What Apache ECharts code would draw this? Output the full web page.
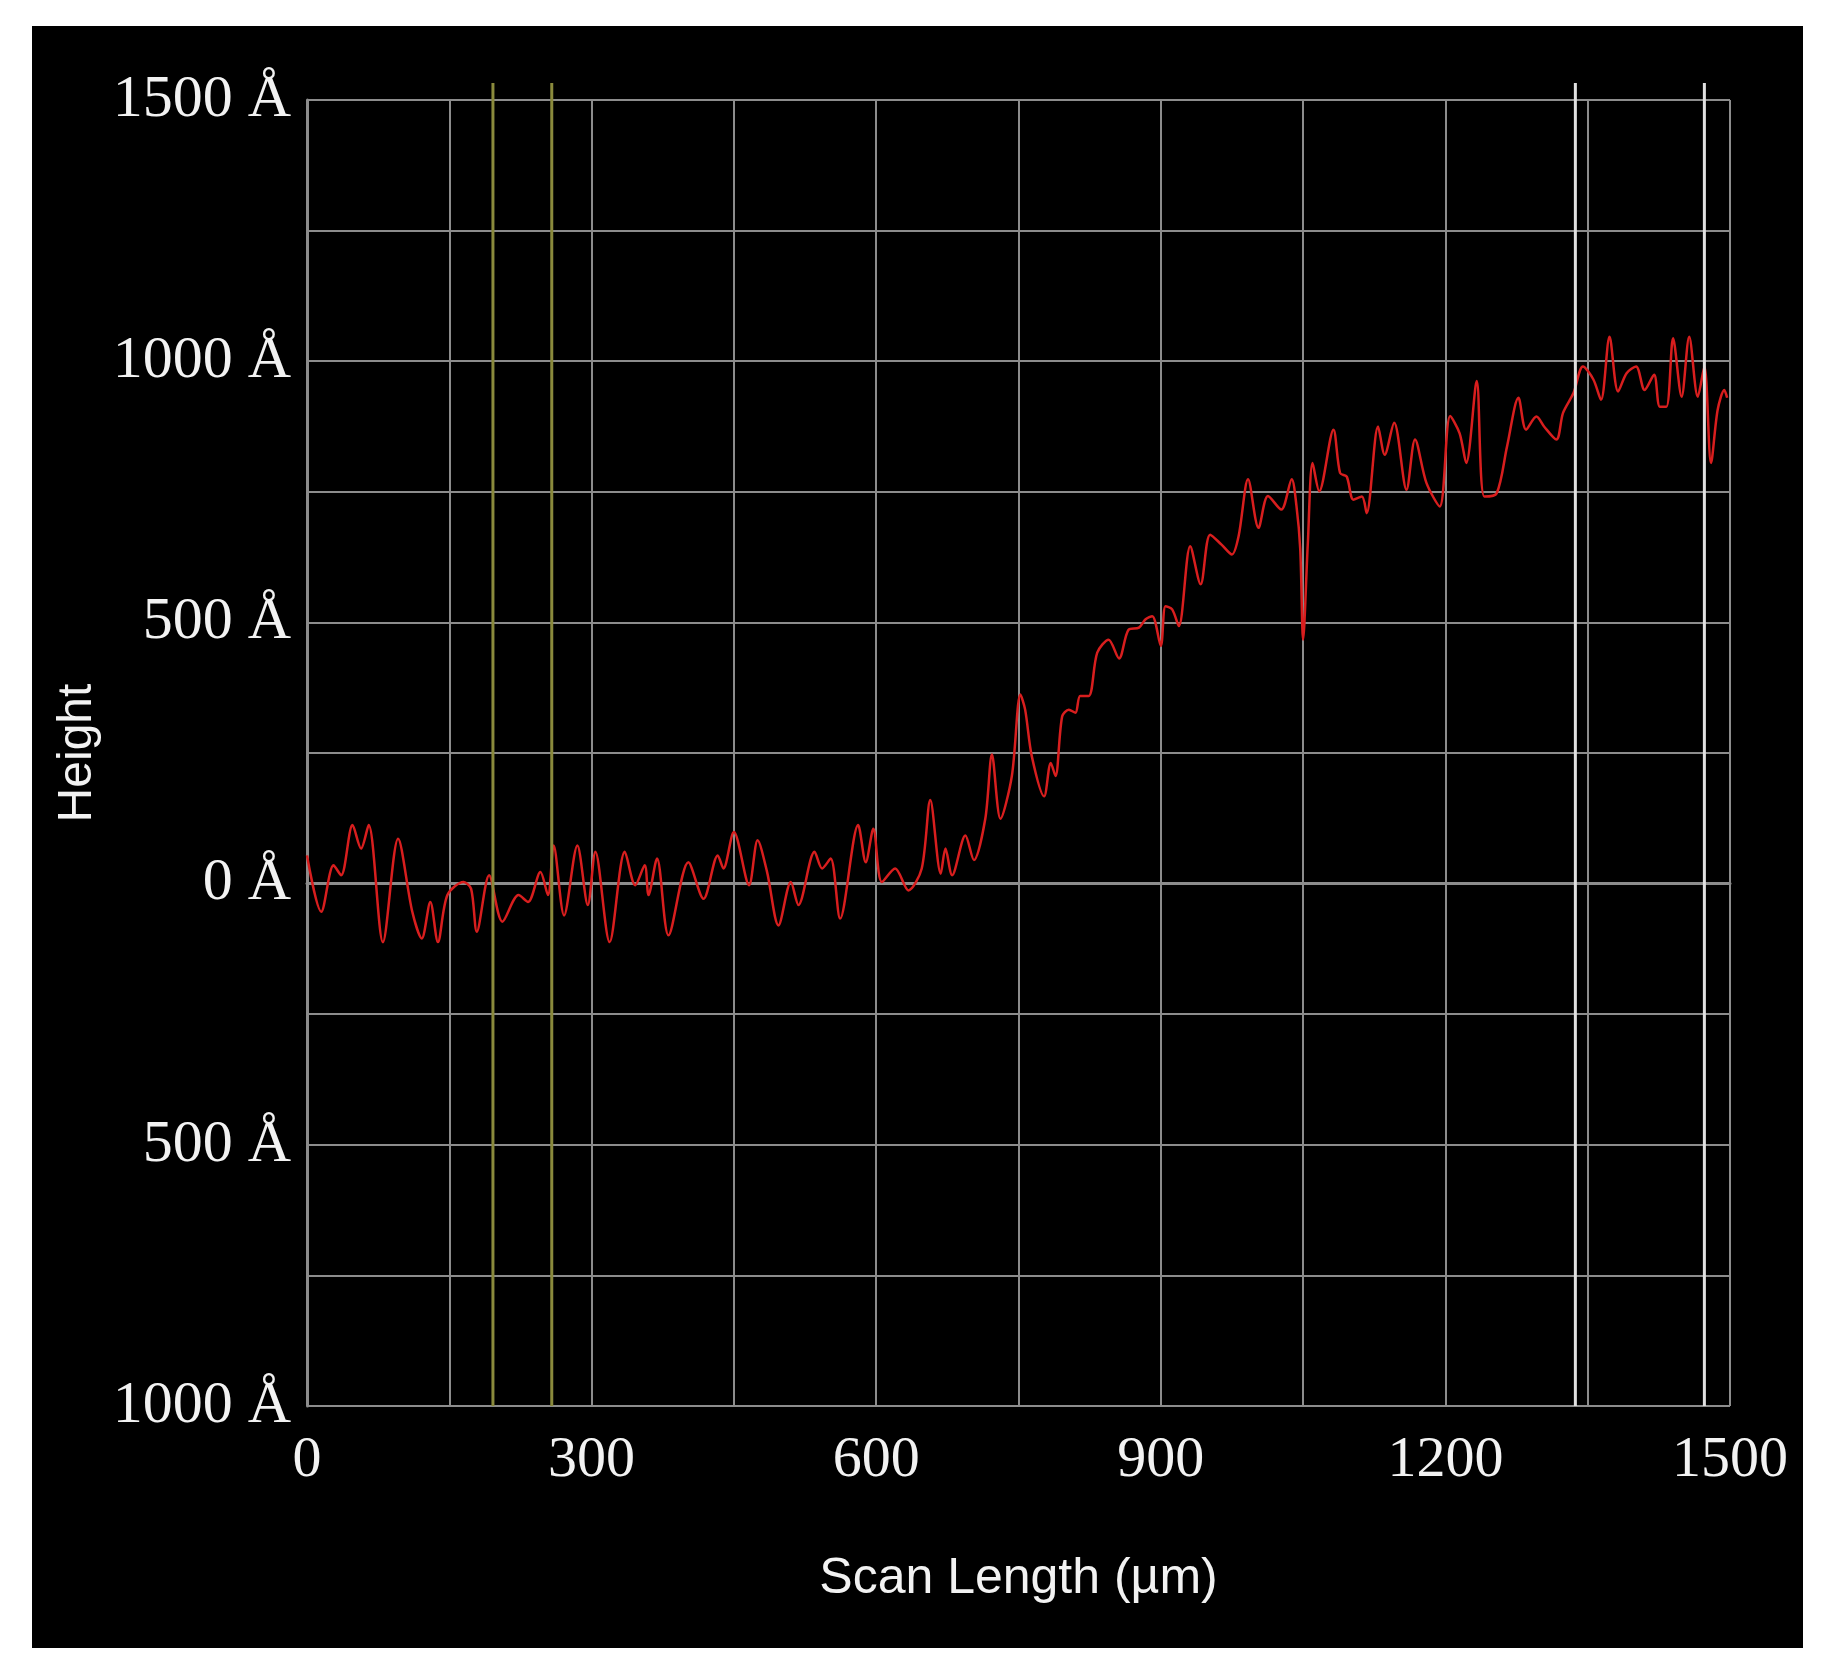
<!DOCTYPE html>
<html><head><meta charset="utf-8">
<script src="https://cdn.jsdelivr.net/npm/echarts@6/dist/echarts.min.js"></script>
<style>
html,body{margin:0;padding:0;background:#fff;width:1831px;height:1669px;overflow:hidden}
#bg{position:absolute;left:32px;top:26px;width:1771px;height:1622px;background:#000}
#c{position:absolute;left:0;top:0;width:1831px;height:1669px}
</style></head><body>
<div id="bg"></div><div id="c"></div>
<script>
const scanX = [0,15,28,36,48,57,65,80,96,111,121,130,138,148,165,173,179,192,206,223,233,246,254,260,271,285,296,304,319,335,346,356,360,369,381,402,418,433,439,450,466,475,485,497,510,518,535,543,552,562,581,589,597,606,620,634,648,657,668,673,680,694,703,715,722,731,743,752,757,764,777,784,789,796,803,810,815,824,833,845,856,866,877,884,891,900,905,912,919,931,942,952,964,975,982,992,1003,1013,1027,1038,1043,1047,1050,1055,1060,1067,1082,1089,1096,1103,1112,1117,1129,1136,1146,1159,1168,1180,1194,1205,1215,1222,1233,1241,1254,1265,1277,1285,1296,1304,1317,1324,1335,1345,1356,1364,1373,1382,1391,1401,1410,1420,1426,1433,1440,1449,1457,1466,1473,1480,1487,1494,1497];
const heightA = [54,-54,35,16,112,67,112,-112,86,-54,-105,-35,-112,-22,3,-10,-92,16,-73,-22,-35,22,-22,73,-61,73,-41,61,-112,61,-3,35,-22,48,-99,41,-29,54,29,99,-3,83,22,-80,3,-41,61,29,48,-67,112,41,105,3,29,-13,29,160,19,67,16,92,45,124,247,124,206,362,333,244,167,231,206,320,333,327,359,359,442,467,431,486,490,506,512,455,531,525,493,646,573,668,649,630,665,774,681,742,716,774,723,640,467,652,805,751,869,786,779,735,741,709,875,821,882,754,850,767,722,895,862,805,962,741,747,837,930,869,894,875,850,901,939,990,965,926,1047,942,977,990,945,974,913,913,1044,932,1047,932,990,805,907,945,930];
const yTicks = [1500,1000,500,0,-500,-1000];
const xTicks = [0,300,600,900,1200,1500];
const oliveMarks = [196,258];
const whiteMarks = [1337,1473];

const chart = echarts.init(document.getElementById('c'));
const grey = '#8c8c8c';
chart.setOption({
  backgroundColor: 'transparent',
  animation: false,
  grid: {left:307, right:101, top:100, bottom:263},
  xAxis: {
    type:'value', min:0, max:1500, interval:150,
    name:'Scan Length (µm)', nameLocation:'middle', nameGap:148,
    nameTextStyle:{color:'#f2f2f2', fontSize:50, fontFamily:'Liberation Sans'},
    axisLine:{show:true, lineStyle:{color:grey, width:3}},
    axisTick:{show:false},
    splitLine:{show:true, lineStyle:{color:grey, width:2}},
    axisLabel:{color:'#f2f2f2', fontSize:58, fontFamily:'Liberation Sans Narrow', margin:26,
      formatter: v => xTicks.includes(v) ? String(v) : ''}
  },
  yAxis: {
    type:'value', min:-1000, max:1500, interval:250,
    name:'Height', nameLocation:'middle', nameGap:190,
    nameTextStyle:{color:'#f2f2f2', fontSize:48, fontFamily:'Liberation Sans'},
    axisLine:{show:true, lineStyle:{color:grey, width:3}},
    axisTick:{show:false},
    splitLine:{show:true, lineStyle:{color:grey, width:2}},
    axisLabel:{color:'#f2f2f2', fontSize:60, fontFamily:'Liberation Sans Narrow', margin:16,
      formatter: v => yTicks.includes(v) ? Math.abs(v) + ' Å' : ''}
  },
  series: [{
    type:'line', data: scanX.map((x,i)=>[x,heightA[i]]),
    showSymbol:false, smooth:0.3,
    lineStyle:{color:'#d81e1e', width:2.5}
  }]
});
const markTop = 83, markBottom = chart.convertToPixel({yAxisIndex:0}, -1000);
const g = [];
oliveMarks.forEach(v => { const x = chart.convertToPixel({xAxisIndex:0}, v);
  g.push({type:'line', shape:{x1:x,y1:markTop,x2:x,y2:markBottom}, style:{stroke:'#8a8a3c', lineWidth:3}, z:5}); });
whiteMarks.forEach(v => { const x = chart.convertToPixel({xAxisIndex:0}, v);
  g.push({type:'line', shape:{x1:x,y1:markTop,x2:x,y2:markBottom}, style:{stroke:'#e0e0e0', lineWidth:3}, z:5}); });
chart.setOption({graphic: g});
</script>
</body></html>
